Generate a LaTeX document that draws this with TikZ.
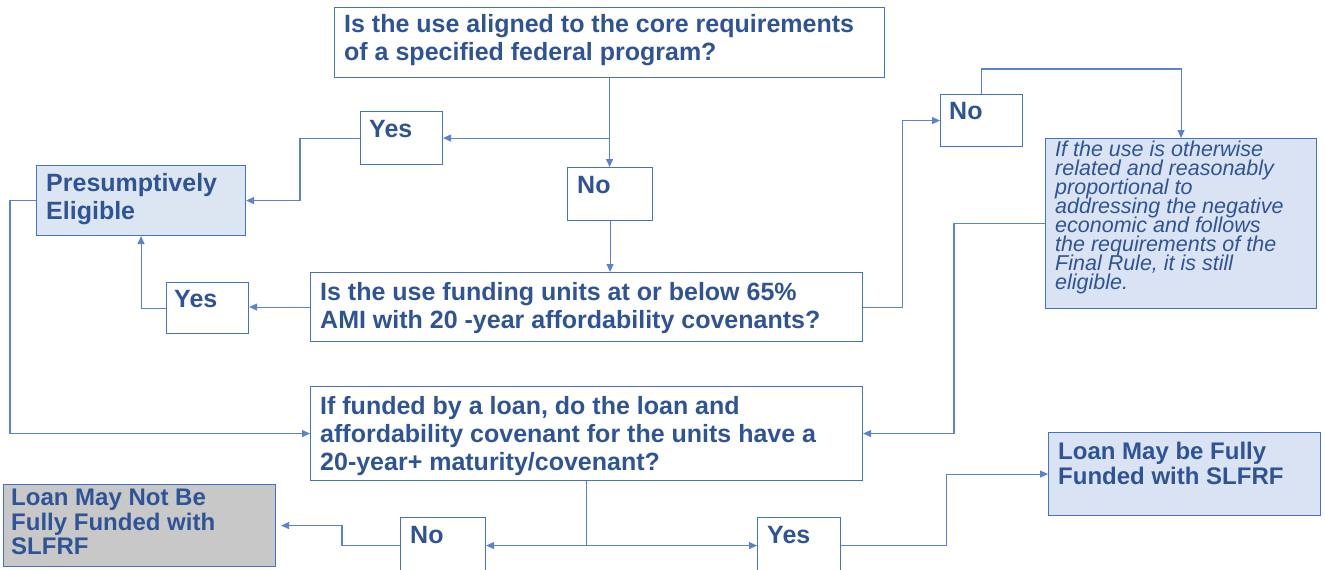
\documentclass[tikz,border=0pt]{standalone}
\usepackage{fontspec}
\setmainfont{Liberation Sans}
\usetikzlibrary{arrows.meta}
\definecolor{ln}{RGB}{68,114,196}
\definecolor{cn}{RGB}{90,130,206}
\definecolor{tx}{RGB}{47,84,150}
\definecolor{fb}{RGB}{220,230,242}
\definecolor{fi}{RGB}{218,227,243}
\definecolor{fg}{RGB}{200,200,200}
\newcommand\tightlines{\lineskiplimit=-20pt\relax}
\begin{document}
\begin{tikzpicture}[x=1pt,y=-1pt,
  box/.style={draw=ln, line width=1.1pt, inner sep=0pt, anchor=north west},
  qt/.style={anchor=north west, inner sep=0pt, text=tx, font=\fontsize{25}{28}\selectfont\bfseries, align=left},
  lt/.style={anchor=north west, inner sep=0pt, text=tx, font={\fontsize{24}{24.5}\selectfont\bfseries\tightlines}, align=left},
  it/.style={anchor=north west, inner sep=0pt, text=tx, font={\fontsize{21.5}{18.9}\selectfont\itshape\tightlines}, align=left},
  conn/.style={draw=cn, line width=1.1pt, -{Triangle[length=8pt,width=7pt]}},
  plain/.style={draw=cn, line width=1.1pt}]
\useasboundingbox (0,0) rectangle (1325,570);
% boxes
\node[box, minimum width=550, minimum height=70] (q1) at (334,7) {};
\node[box, minimum width=82, minimum height=53] (yes1) at (360,111) {};
\node[box, minimum width=85, minimum height=53] (no1) at (567,167) {};
\node[box, fill=fb, minimum width=209, minimum height=70] (pe) at (36,165) {};
\node[box, minimum width=82, minimum height=51] (yes2) at (166,282) {};
\node[box, minimum width=552, minimum height=69] (q2) at (310,272) {};
\node[box, minimum width=82, minimum height=52] (no2) at (940,94) {};
\node[box, fill=fi, minimum width=271, minimum height=170] (itb) at (1045,138) {};
\node[box, minimum width=552, minimum height=94] (q3) at (310,386) {};
\node[box, fill=fg, minimum width=272, minimum height=82] (lnot) at (3,484) {};
\node[box, minimum width=85, minimum height=56] (no3) at (400,517) {};
\node[box, minimum width=83, minimum height=56] (yes3) at (757,517) {};
\node[box, fill=fi, minimum width=272, minimum height=83] (lf) at (1048,432) {};
% texts
\node[qt] (q1t) at (344,14) {Is the use aligned to the core requirements\\of a specified federal program?};
\node[qt] (yes1t) at (369,120) {Yes};
\node[qt] (no1t) at (577,176) {No};
\node[qt] (pet) at (46,173) {Presumptively\\Eligible};
\node[qt] (yes2t) at (174,290) {Yes};
\node[qt] (q2t) at (320,282) {Is the use funding units at or below 65\%\\AMI with 20 -year affordability covenants?};
\node[qt] (no2t) at (949,102) {No};
\node[it] (itt) at (1055,141) {If the use is otherwise\\related and reasonably\\proportional to\\addressing the negative\\economic and follows\\the requirements of the\\Final Rule, it is still\\eligible.};
\node[qt] (q3t) at (320,396) {If funded by a loan, do the loan and\\affordability covenant for the units have a\\20-year+ maturity/covenant?};
\node[lt] (lnott) at (11,489) {Loan May Not Be\\Fully Funded with\\SLFRF};
\node[qt] (no3t) at (410,526) {No};
\node[qt] (yes3t) at (767,526) {Yes};
\node[lt] (lft) at (1058,442) {Loan May be Fully\\Funded with SLFRF};
% connectors
\draw[conn] (q1.south) -- (q1.south |- no1.north);
\draw[conn] (q1.south |- yes1.east) -- (yes1.east);
\draw[conn] (yes1.west) -- ++(-60,0) |- (pe.east);
\draw[conn] (no1.south) -- (no1.south |- q2.north);
\draw[conn] (q2.west) -- (q2.west -| yes2.east);
\draw[conn] (yes2.west) -| (pe.south);
\draw[conn] (pe.west) -- ++(-26,0) |- (q3.west);
\draw[conn] (q2.east) -- ++(39,0) |- (no2.west);
\draw[conn] (no2.north) -- ++(0,-25) -| (itb.north);
\draw[conn] (itb.west) -- ++(-91,0) |- (q3.east);
\draw[plain] (q3.south) -- (q3.south |- no3.east);
\draw[conn] (q3.south |- no3.east) -- (no3.east);
\draw[conn] (q3.south |- yes3.west) -- (yes3.west);
\draw[conn] (no3.west) -- ++(-58,0) |- ([xshift=5pt]lnot.east);
\draw[conn] (yes3.east) -- ++(105,0) |- (lf.west);
\end{tikzpicture}
\end{document}
